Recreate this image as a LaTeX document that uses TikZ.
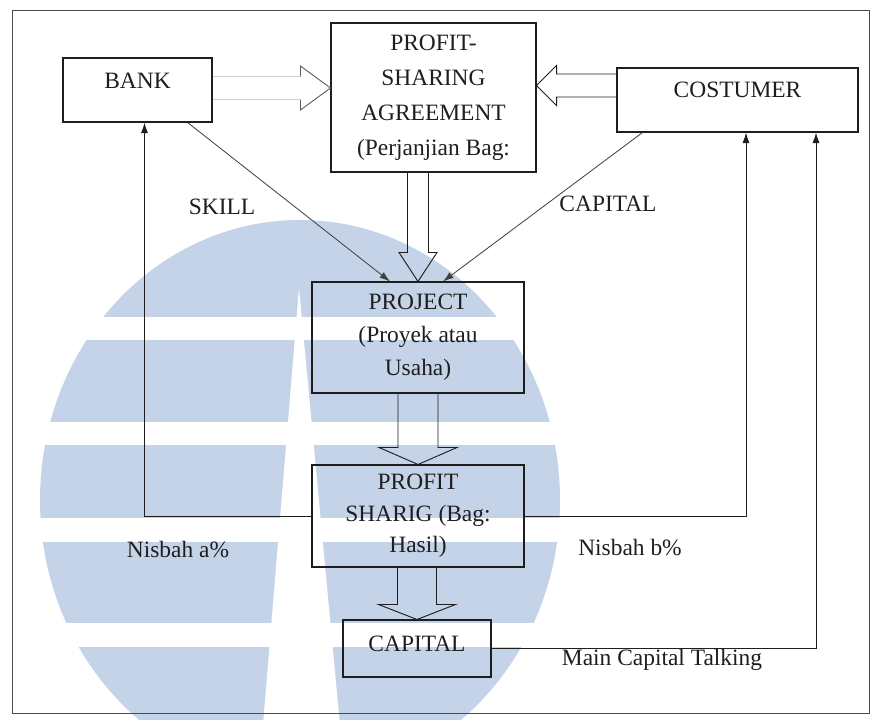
\documentclass[tikz,border=0pt]{standalone}
\usepackage{fontspec}
\setmainfont{Liberation Serif}
\usetikzlibrary{calc,arrows.meta}
\definecolor{wm}{RGB}{196,211,231}
\definecolor{ink}{RGB}{30,30,30}
\newlength{\pxu}
\setlength{\pxu}{0.03cm}
\newcommand{\hollowdown}[5]{%
  \draw[hollow] ($#1+(-#3,0)$) -- ($#2+(-#3,-#5)$) -- ($#2+(-#4,-#5)$) -- #2 -- ($#2+(#4,-#5)$) -- ($#2+(#3,-#5)$) -- ($#1+(#3,0)$);}
\begin{document}
\begin{tikzpicture}[x=0.03cm,y=-0.03cm,
  box/.style={draw=ink, line width=0.9pt, rectangle, inner sep=0pt, align=center, text=ink,
              font=\fontsize{20}{29}\selectfont},
  lbl/.style={font=\fontsize{20}{24}\selectfont, text=ink, inner sep=0pt},
  conn/.style={draw=ink, line width=0.8pt},
  diag/.style={draw=ink!85, line width=0.7pt},
  fa/.style={-{Latex[length=9pt,width=6pt]}},
  hollow/.style={draw=ink, line width=0.8pt, line join=miter},
]
\useasboundingbox (0,0) rectangle (873,719);
% watermark
\begin{scope}
  \clip (0,0) rectangle (873,719);
  \fill[wm] (300,500) ellipse [x radius=260, y radius=280];
  \fill[white] (0,317) rectangle (873,340);
  \fill[white] (0,422) rectangle (873,445);
  \fill[white] (0,518) rectangle (873,542);
  \fill[white] (0,623) rectangle (873,647);
  \fill[white] (299,288) -- (263,725) -- (340,725) -- cycle;
\end{scope}
% frame
\draw[ink!80, line width=0.8pt] (12,10) rectangle (869,713);
% boxes
\node[box, minimum width=149\pxu, minimum height=64\pxu,
      label={[lbl,yshift=9\pxu]center:BANK}] (bank) at (137.5,90) {};
\node[box, minimum width=205\pxu, minimum height=149\pxu, font=\fontsize{20}{30}\selectfont]
      (psa) at (433.5,97.5) {PROFIT-\\SHARING\\AGREEMENT\\(Perjanjian Bag:};
\node[box, minimum width=241\pxu, minimum height=64\pxu,
      label={[lbl,yshift=10\pxu]center:COSTUMER}] (costumer) at (737.5,100) {};
\node[box, minimum width=212\pxu, minimum height=111\pxu, font=\fontsize{20}{28}\selectfont]
      (project) at (418,337.5) {PROJECT\\(Proyek atau\\Usaha)};
\node[box, minimum width=212\pxu, minimum height=102\pxu, font=\fontsize{20}{27}\selectfont]
      (ps) at (418,516) {PROFIT\\SHARIG (Bag:\\Hasil)};
\node[box, minimum width=148\pxu, minimum height=57\pxu,
      label={[lbl,yshift=5\pxu]center:CAPITAL}] (capital) at (417,648.5) {};
% labels
\node[lbl] (skill) at (222,207) {SKILL};
\node[lbl] (capl) at (608,204) {CAPITAL};
\node[lbl] (na) at (178,550) {Nisbah a\%};
\node[lbl] (nb) at (630,548) {Nisbah b\%};
\node[lbl] (mct) at (662,660) {Main Capital Talking};
% hollow arrow costumer -> agreement
\coordinate (ct) at ($(psa.east)+(0,-12)$);
\draw[hollow] ($(ct -| costumer.west)+(0,-11.5)$) -- ($(ct)+(20,-11.5)$) -- ($(ct)+(20,-20)$)
  -- (ct) -- ($(ct)+(20,20)$) -- ($(ct)+(20,11.5)$) -- ($(ct -| costumer.west)+(0,11.5)$);
% faint hollow arrow bank -> agreement
\coordinate (bt) at ($(psa.west)+(0,-9.5)$);
\draw[black!18, line width=0.7pt] ($(bt -| bank.east)+(0,-11.5)$) -- ($(bt)+(-30,-11.5)$);
\draw[black!18, line width=0.7pt] ($(bt -| bank.east)+(0,11.5)$) -- ($(bt)+(-30,11.5)$);
\draw[hollow, draw=ink!70] ($(bt)+(-30,-11.5)$) -- ($(bt)+(-30,-22)$) -- (bt)
  -- ($(bt)+(-30,22)$) -- ($(bt)+(-30,11.5)$);
% vertical hollow arrows
\hollowdown{(psa.south -| project.north)}{(project.north)}{10.5}{19}{29}
\hollowdown{(project.south)}{(ps.north)}{20}{39}{17}
\hollowdown{(ps.south -| capital.north)}{(capital.north)}{19.5}{38.5}{15}
% diagonal arrows
\draw[diag, fa] (bank.-33) -- ($(project.north)+(-28,0)$);
\draw[diag, fa] ($(costumer.south west)+(26,0)$) -- ($(project.north)+(25,0)$);
% return lines
\draw[conn, fa] (ps.west) -| ($(bank.south)+(7,0)$);
\draw[conn, fa] (ps.east) -| ($(costumer.south)+(8.5,0)$);
\draw[conn, fa] (capital.east) -| ($(costumer.south)+(78.5,0)$);
\end{tikzpicture}
\end{document}
